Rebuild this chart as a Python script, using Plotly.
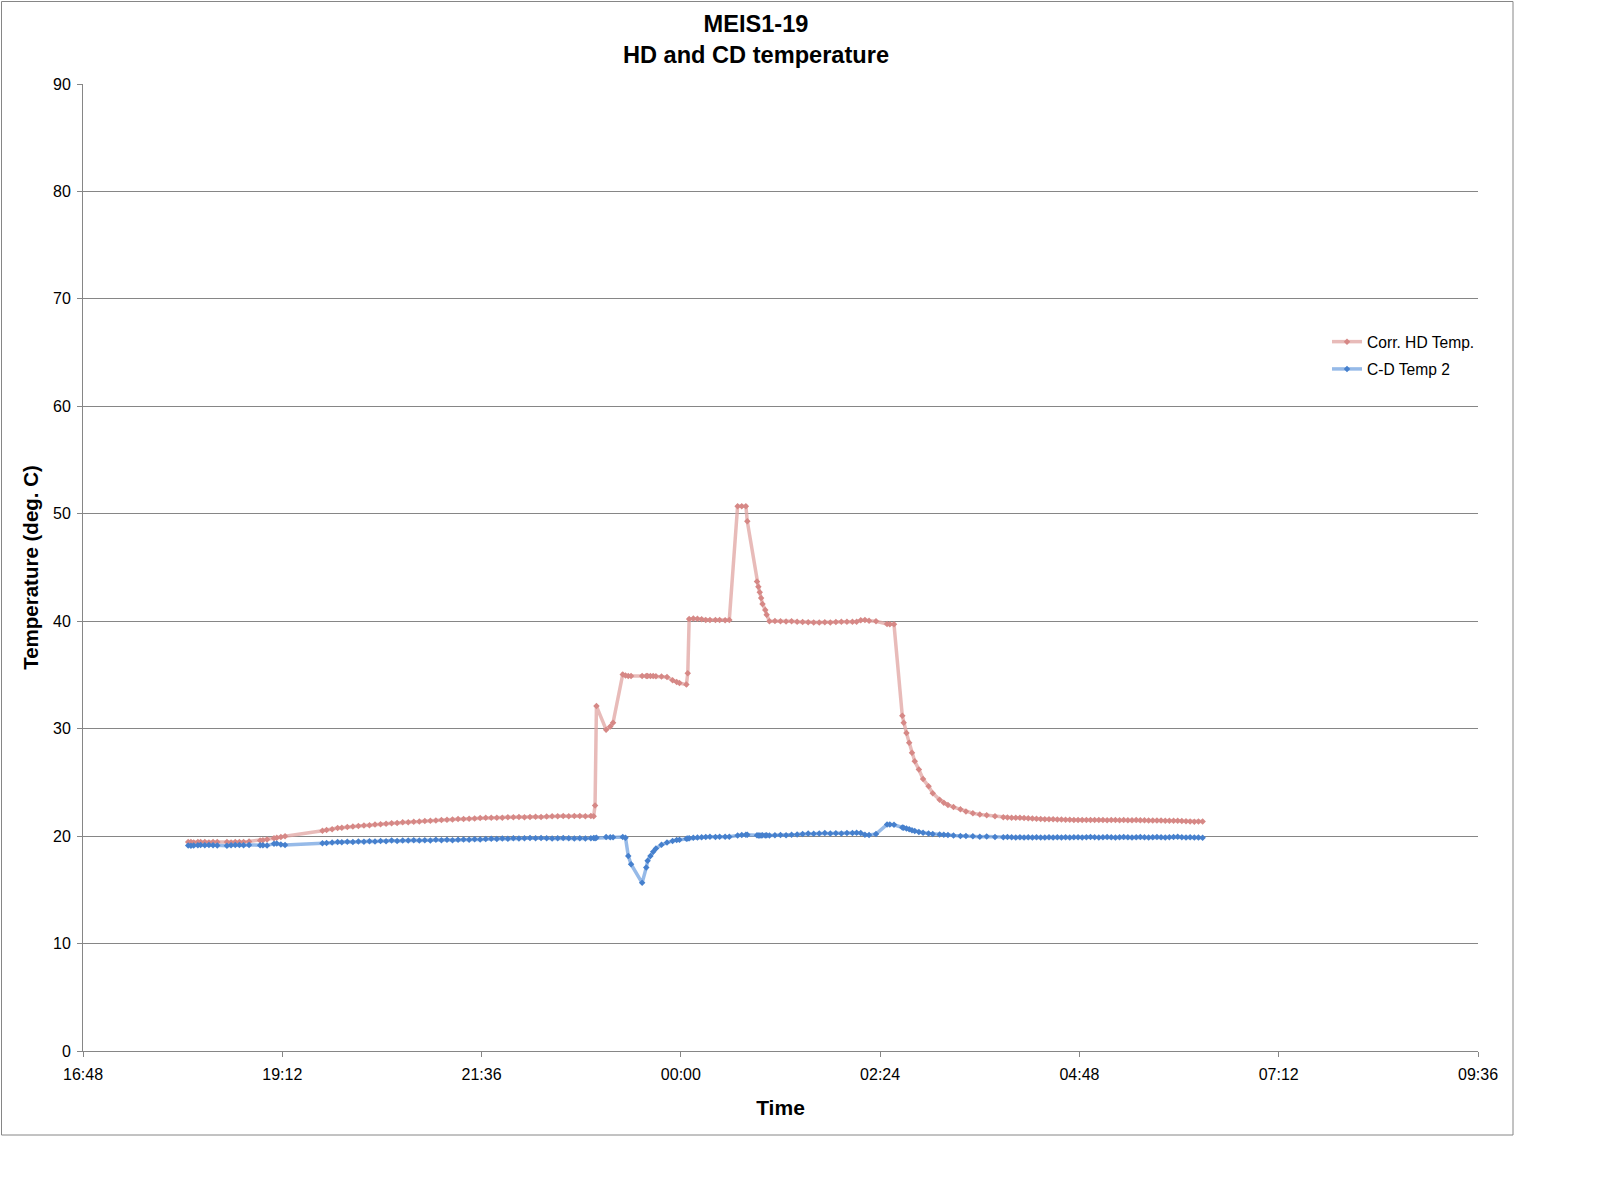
from datetime import datetime, timedelta

import plotly.graph_objects as go

# readings (clock time, HD temp, C-D temp), log starts the evening before
times = [
    "18:04", "18:06", "18:08", "18:11", "18:13", "18:16", "18:19", "18:22", "18:25", "18:32",
    "18:35", "18:38", "18:41", "18:44", "18:48", "18:56", "18:58", "19:01", "19:06", "19:08",
    "19:11", "19:14", "19:41", "19:44", "19:48", "19:52", "19:55", "19:59", "20:03", "20:07",
    "20:11", "20:15", "20:19", "20:23", "20:27", "20:31", "20:35", "20:39", "20:43", "20:47",
    "20:51", "20:55", "20:59", "21:03", "21:07", "21:11", "21:15", "21:19", "21:23", "21:27",
    "21:31", "21:35", "21:39", "21:43", "21:47", "21:51", "21:55", "21:59", "22:03", "22:07",
    "22:11", "22:15", "22:19", "22:23", "22:27", "22:31", "22:35", "22:39", "22:43", "22:47",
    "22:51", "22:55", "22:57", "22:58", "22:59", "23:06", "23:09", "23:11", "23:18", "23:20",
    "23:22", "23:24", "23:32", "23:35", "23:36", "23:38", "23:40", "23:42", "23:46", "23:50",
    "23:54", "23:57", "23:59", "00:04", "00:05", "00:06", "00:09", "00:12", "00:15", "00:18",
    "00:21", "00:25", "00:28", "00:32", "00:35", "00:41", "00:44", "00:47", "00:48", "00:55",
    "00:56", "00:57", "00:58", "00:59", "01:01", "01:02", "01:04", "01:08", "01:12", "01:16",
    "01:20", "01:24", "01:28", "01:32", "01:36", "01:40", "01:44", "01:48", "01:52", "01:56",
    "02:00", "02:04", "02:07", "02:10", "02:13", "02:16", "02:21", "02:29", "02:31", "02:34",
    "02:40", "02:41", "02:43", "02:45", "02:47", "02:49", "02:52", "02:55", "02:59", "03:02",
    "03:07", "03:10", "03:13", "03:17", "03:22", "03:26", "03:31", "03:36", "03:41", "03:47",
    "03:53", "03:56", "03:59", "04:02", "04:05", "04:08", "04:11", "04:14", "04:17", "04:20",
    "04:23", "04:26", "04:29", "04:32", "04:35", "04:38", "04:41", "04:44", "04:47", "04:50",
    "04:53", "04:56", "04:59", "05:02", "05:05", "05:08", "05:11", "05:14", "05:17", "05:20",
    "05:23", "05:26", "05:29", "05:32", "05:35", "05:38", "05:41", "05:44", "05:47", "05:50",
    "05:53", "05:56", "05:59", "06:02", "06:05", "06:08", "06:11", "06:14", "06:17",
]

hd_temp = [
    19.45, 19.45, 19.40, 19.45, 19.45, 19.45, 19.40, 19.45, 19.45, 19.45,
    19.40, 19.45, 19.45, 19.45, 19.50, 19.60, 19.62, 19.68, 19.80, 19.85,
    19.92, 19.98, 20.50, 20.58, 20.65, 20.75, 20.78, 20.85, 20.90, 20.95,
    20.98, 21.02, 21.08, 21.10, 21.15, 21.20, 21.22, 21.28, 21.30, 21.33,
    21.35, 21.40, 21.42, 21.45, 21.50, 21.52, 21.55, 21.60, 21.60, 21.62,
    21.65, 21.68, 21.70, 21.70, 21.72, 21.72, 21.75, 21.75, 21.78, 21.75,
    21.78, 21.80, 21.78, 21.82, 21.85, 21.85, 21.88, 21.85, 21.88, 21.88,
    21.85, 21.88, 21.85, 22.85, 32.10, 29.90, 30.20, 30.55, 35.05, 34.95,
    34.90, 34.90, 34.90, 34.90, 34.90, 34.90, 34.90, 34.88, 34.85, 34.82,
    34.50, 34.35, 34.25, 34.10, 35.15, 40.20, 40.25, 40.22, 40.18, 40.12,
    40.12, 40.12, 40.12, 40.10, 40.12, 50.70, 50.70, 50.70, 49.30, 43.70,
    43.20, 42.70, 42.15, 41.60, 41.05, 40.60, 40.00, 40.02, 40.00, 39.98,
    40.00, 39.95, 39.92, 39.90, 39.88, 39.88, 39.90, 39.88, 39.92, 39.95,
    39.95, 39.94, 39.96, 40.08, 40.12, 40.05, 40.00, 39.75, 39.72, 39.72,
    31.20, 30.56, 29.60, 28.70, 27.75, 26.97, 26.19, 25.31, 24.63, 24.00,
    23.38, 23.10, 22.90, 22.70, 22.50, 22.30, 22.13, 22.02, 21.94, 21.85,
    21.75, 21.73, 21.72, 21.70, 21.70, 21.68, 21.66, 21.63, 21.62, 21.60,
    21.58, 21.57, 21.56, 21.55, 21.55, 21.53, 21.52, 21.50, 21.50, 21.50,
    21.50, 21.50, 21.50, 21.50, 21.50, 21.48, 21.50, 21.50, 21.48, 21.50,
    21.48, 21.48, 21.50, 21.48, 21.48, 21.46, 21.46, 21.45, 21.45, 21.44,
    21.44, 21.43, 21.42, 21.40, 21.38, 21.35, 21.34, 21.35, 21.36,
]

cd_temp = [
    19.12, 19.10, 19.12, 19.15, 19.18, 19.15, 19.18, 19.15, 19.12, 19.10,
    19.15, 19.18, 19.18, 19.15, 19.18, 19.15, 19.15, 19.12, 19.30, 19.32,
    19.22, 19.18, 19.33, 19.35, 19.40, 19.46, 19.42, 19.48, 19.45, 19.50,
    19.48, 19.52, 19.50, 19.55, 19.52, 19.58, 19.55, 19.60, 19.58, 19.62,
    19.60, 19.62, 19.60, 19.65, 19.62, 19.65, 19.62, 19.65, 19.68, 19.65,
    19.70, 19.68, 19.72, 19.75, 19.72, 19.78, 19.75, 19.80, 19.78, 19.80,
    19.82, 19.80, 19.82, 19.80, 19.78, 19.80, 19.82, 19.80, 19.78, 19.80,
    19.78, 19.80, 19.82, 19.80, 19.85, 19.92, 19.90, 19.90, 19.92, 19.85,
    18.16, 17.38, 15.65, 17.07, 17.70, 18.16, 18.55, 18.85, 19.20, 19.41,
    19.55, 19.63, 19.66, 19.75, 19.78, 19.81, 19.84, 19.86, 19.90, 19.92,
    19.94, 19.92, 19.94, 19.95, 19.94, 20.05, 20.10, 20.12, 20.12, 20.08,
    20.06, 20.06, 20.05, 20.08, 20.06, 20.08, 20.06, 20.09, 20.10, 20.08,
    20.12, 20.15, 20.20, 20.25, 20.22, 20.25, 20.28, 20.25, 20.26, 20.25,
    20.28, 20.30, 20.31, 20.28, 20.12, 20.10, 20.19, 21.09, 21.09, 21.05,
    20.80, 20.78, 20.72, 20.65, 20.55, 20.48, 20.38, 20.31, 20.25, 20.20,
    20.15, 20.12, 20.10, 20.05, 20.00, 20.02, 19.98, 19.94, 19.96, 19.92,
    19.90, 19.92, 19.90, 19.88, 19.90, 19.88, 19.90, 19.88, 19.90, 19.87,
    19.88, 19.90, 19.88, 19.90, 19.88, 19.90, 19.88, 19.90, 19.90, 19.88,
    19.90, 19.92, 19.90, 19.88, 19.90, 19.92, 19.90, 19.88, 19.90, 19.92,
    19.90, 19.88, 19.90, 19.92, 19.90, 19.88, 19.90, 19.92, 19.90, 19.88,
    19.90, 19.92, 19.94, 19.90, 19.88, 19.90, 19.88, 19.86, 19.85,
]

day0 = datetime(2011, 1, 1)
x = []
for t in times:
    h, m = int(t[:2]), int(t[3:])
    d = day0 if h >= 12 else day0 + timedelta(days=1)
    x.append(d + timedelta(hours=h, minutes=m))

x_start = datetime(2011, 1, 1, 16, 48)
x_end = datetime(2011, 1, 2, 9, 36)

grey = "#868686"
font = "Liberation Sans, Arial, sans-serif"

trace1 = go.Scatter(
    x=x, y=hd_temp,
    mode="lines+markers",
    name="Corr. HD Temp.",
    legendgroup="hd",
    line=dict(color="rgba(224,164,162,0.75)", width=3.5),
    marker=dict(color="rgb(214,136,134)", size=5, symbol="diamond"),
)

trace2 = go.Scatter(
    x=x, y=cd_temp,
    mode="lines+markers",
    name="C-D Temp 2",
    legendgroup="cd",
    line=dict(color="rgba(115,163,224,0.75)", width=3.5),
    marker=dict(color="rgb(70,128,205)", size=5, symbol="diamond"),
)

fig = go.Figure(data=[trace1, trace2])

fig.update_layout(
    width=1598,
    height=1202,
    autosize=False,
    margin=dict(l=83, r=120, t=84, b=151),
    paper_bgcolor="white",
    plot_bgcolor="white",
    font=dict(family=font, color="black", size=16),
    title=dict(
        text="MEIS1-19<br>HD and CD temperature",
        font=dict(size=23.6, weight="bold"),
        x=756 / 1598, xref="container", xanchor="center",
        y=1 - 32 / 1202, yref="container", yanchor="top",
    ),
    xaxis=dict(
        type="date",
        range=[x_start, x_end],
        tick0=x_start,
        dtick=144 * 60 * 1000,
        tickformat="%H:%M",
        showgrid=False,
        zeroline=False,
        showline=True, linecolor=grey, linewidth=1,
        ticks="outside", ticklen=5, tickcolor=grey,
        tickfont=dict(size=16),
        ticklabelstandoff=4,
        title=dict(text="Time", font=dict(size=21, weight="bold"), standoff=18),
    ),
    yaxis=dict(
        range=[0, 90],
        dtick=10,
        showgrid=True, gridcolor=grey, gridwidth=1,
        zeroline=False,
        showline=True, linecolor=grey, linewidth=1,
        ticks="outside", ticklen=5, tickcolor=grey,
        tickfont=dict(size=16),
        ticklabelstandoff=3,
        title=dict(text="Temperature (deg. C)", font=dict(size=20.5, weight="bold"), standoff=8),
    ),
    legend=dict(
        x=(1327 - 83) / 1395, y=(1051 - 325) / 967,
        xanchor="left", yanchor="top",
        font=dict(size=15.6),
        tracegroupgap=4,
        bgcolor="rgba(0,0,0,0)",
    ),
    showlegend=True,
)

# outer chart border
fig.add_shape(
    type="rect", xref="paper", yref="paper",
    x0=(1.5 - 83) / 1395, x1=(1513 - 83) / 1395,
    y0=(1051 - 1135) / 967, y1=(1051 - 1.5) / 967,
    line=dict(color=grey, width=1),
    fillcolor="rgba(0,0,0,0)",
    layer="below",
)

# page body has a default 8px margin, drop it so the chart sits at the top-left corner
fig.write_html(
    "out.html",
    config={"displayModeBar": False},
    post_script="document.body.style.margin='0px';",
)
